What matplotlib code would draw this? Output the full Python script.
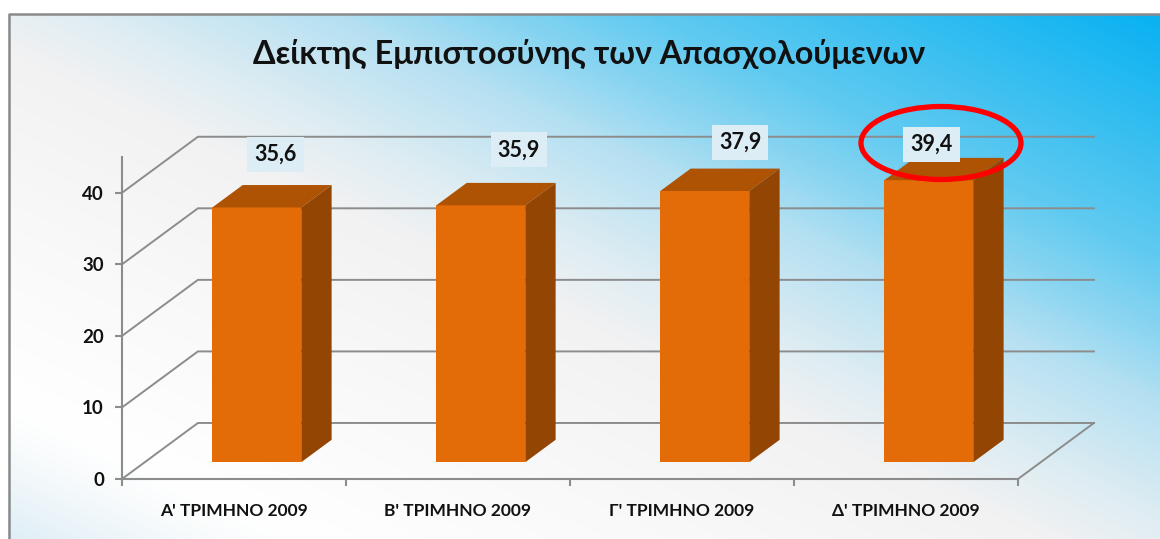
import numpy as np
import matplotlib
matplotlib.use('Agg')
import matplotlib.pyplot as plt
from matplotlib.colors import LinearSegmentedColormap
from matplotlib.patches import Ellipse, Polygon

plt.rcParams['font.family'] = ['Lato', 'Noto Sans', 'DejaVu Sans']

# Data
title = 'Δείκτης Εμπιστοσύνης των Απασχολούμενων'
quarters = ["Α' ΤΡΙΜΗΝΟ 2009", "Β' ΤΡΙΜΗΝΟ 2009", "Γ' ΤΡΙΜΗΝΟ 2009", "Δ' ΤΡΙΜΗΝΟ 2009"]
values = [35.6, 35.9, 37.9, 39.4]
value_labels = ['35,6', '35,9', '37,9', '39,4']
y_ticks = [0, 10, 20, 30, 40]

# Fake 3D depth, in data units
DX = 0.339
DY = 7.83
bar_w = 0.397

W, H = 1160, 539
fig = plt.figure(figsize=(W / 100, H / 100), dpi=100, facecolor='white')

# Gradient background inside the grey frame
bg = fig.add_axes([0, 0, 1, 1])
bg.axis('off')
xx, yy = np.meshgrid(np.arange(W), np.arange(H))
t = xx * 0.47 - yy
t = (t + 539) / (525 + 539)
cmap = LinearSegmentedColormap.from_list('bg', [
    (0.00, '#deeef6'), (0.09, '#f8fbfc'), (0.13, '#ffffff'), (0.295, '#f9f9f9'), (0.46, '#f2f2f2'),
    (0.53, '#dfedf3'), (0.642, '#b4e0f2'), (0.70, '#8ed6f1'), (0.78, '#5fcaf0'),
    (1.00, '#0ab2f2')])
bg.imshow(t[14:, 8:], cmap=cmap, vmin=0, vmax=1, extent=(8, 1160, 539, 14), aspect='auto',
          interpolation='bilinear')
bg.set_xlim(0, W)
bg.set_ylim(H, 0)
bg.plot([8.5, 8.5, 1160], [539, 14, 14], color='#8a8a8a', lw=1.8)

# Chart axes
ax = fig.add_axes([122 / W, (H - 479) / H, 896 / W, 322 / H])
ax.patch.set_alpha(0)
ax.set_xlim(0, 4)
ax.set_ylim(0, 45)
for s in ['top', 'right']:
    ax.spines[s].set_visible(False)
for s in ['left', 'bottom']:
    ax.spines[s].set_color('#8c8c8c')
    ax.spines[s].set_linewidth(1.5)

ax.set_yticks(y_ticks)
ax.set_yticklabels([str(v) for v in y_ticks], fontsize=13.5, fontweight='bold', color='#111111')
ax.set_xticks(range(5))
ax.set_xticklabels([])
ax.set_xticks(np.arange(4) + 0.5, quarters, minor=True, fontsize=12.5, fontweight='bold', color='#111111')
ax.tick_params(axis='x', which='minor', length=0, pad=17)
ax.tick_params(axis='both', which='major', color='#8c8c8c', width=1.5, length=5)
ax.tick_params(axis='y', pad=8)

# Back wall and side wall grid
grid = dict(color='#8c8c8c', lw=1.4, clip_on=False, zorder=1)
for v in y_ticks:
    ax.plot([0, DX, 4 + DX], [v, v + DY, v + DY], **grid)
ax.plot([4, 4 + DX], [0, DY], **grid)

# Bars: front face from ax.bar, top and side as offset polygons
x_pos = np.arange(4) + 0.5 + 0.3 * DX
base = 0.3 * DY
ax.bar(x_pos, values, bottom=base, width=bar_w, color='#e36c09', zorder=3, clip_on=False)
for x, v in zip(x_pos, values):
    x0, x1 = x - bar_w / 2, x + bar_w / 2
    top = base + v
    ddx, ddy = 0.4 * DX, 0.4 * DY
    ax.add_patch(Polygon([(x0, top), (x1, top), (x1 + ddx, top + ddy), (x0 + ddx, top + ddy)],
                         color='#ae5204', lw=0, zorder=3, clip_on=False))
    ax.add_patch(Polygon([(x1, base), (x1, top), (x1 + ddx, top + ddy), (x1 + ddx, base + ddy)],
                         color='#934504', lw=0, zorder=3, clip_on=False))

# Value labels were moved by hand in the original, offsets in points from bar top
label_off = [(13.5, 38), (27.5, 40), (25.5, 35), (2.0, 26)]
for x, v, lab, off in zip(x_pos, values, value_labels, label_off):
    ax.annotate(lab, (x, base + v), xytext=off, textcoords='offset points', ha='center', va='center',
                fontsize=15.5, fontweight='bold', color='#111111', zorder=5, annotation_clip=False,
                bbox=dict(boxstyle='square,pad=0.33', fc='#dcedf5', ec='none'))

fig.text(589 / W, 1 - 54 / H, title, ha='center', va='center', fontsize=23.3, fontweight='bold', color='#111111')

# Red ring around last label
fig.add_artist(Ellipse((941 / W, 1 - 143 / H), 160 / W, 73 / H, fill=False, ec='#ff0000', lw=3.8,
                       transform=fig.transFigure, zorder=10))

fig.savefig('out.png', dpi=100)
